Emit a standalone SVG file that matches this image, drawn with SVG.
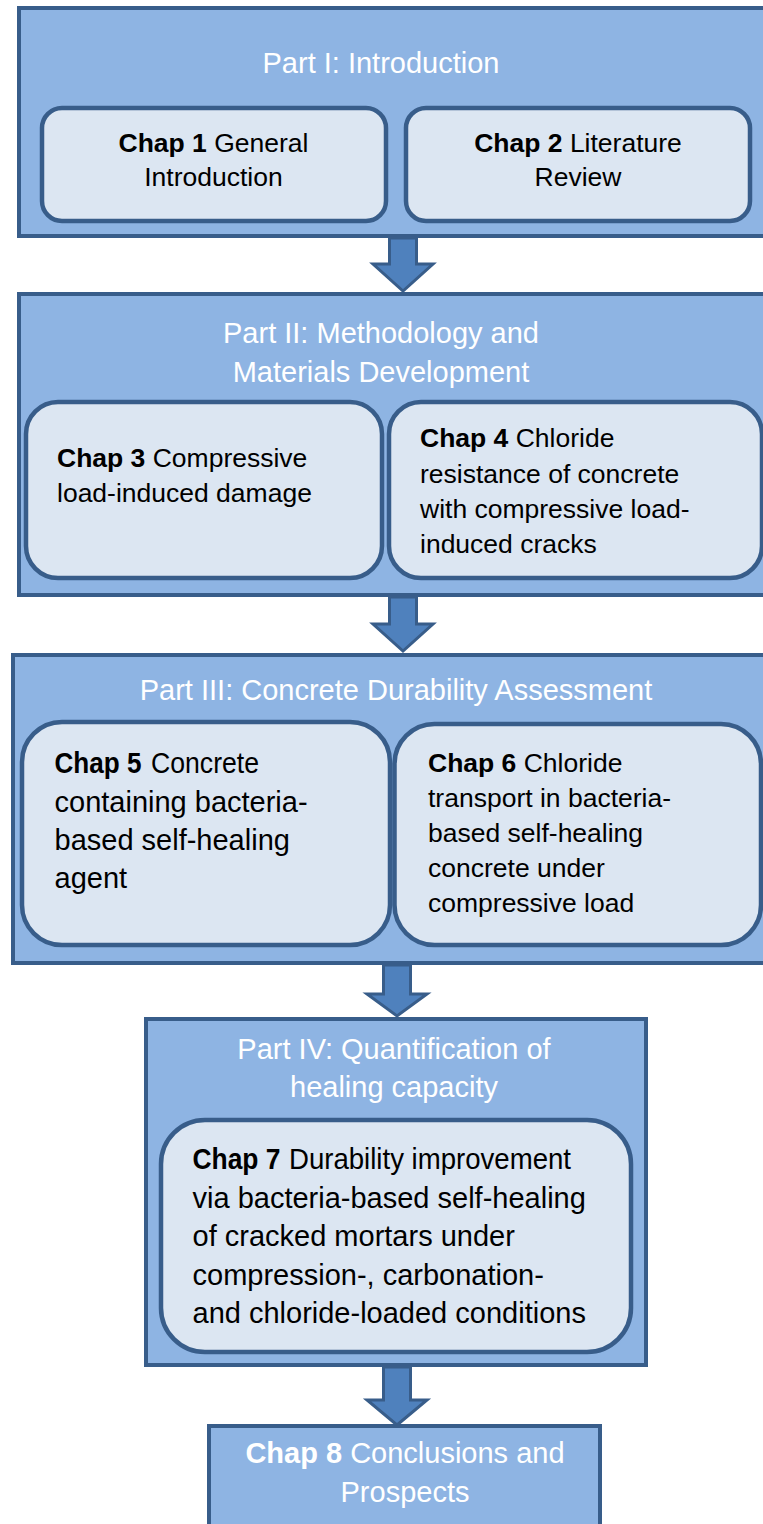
<svg xmlns="http://www.w3.org/2000/svg" width="763" height="1524" viewBox="0 0 763 1524">
<style>
.part{fill:#8eb4e3;stroke:#385d8a;stroke-width:4}
.chap{fill:#dce6f2;stroke:#385d8a;stroke-width:4.5}
.arrow{fill:#4f81bd;stroke:#385d8a;stroke-width:3;stroke-linejoin:miter}
text{font-family:"Liberation Sans",Arial,sans-serif}
.title{font-size:29px;fill:#ffffff;text-anchor:middle}
.ct{font-size:26.5px;fill:#000000}
.cb{font-size:29px;fill:#000000}
.mid{text-anchor:middle}
.b{font-weight:bold}
</style>
<rect width="763" height="1524" fill="#ffffff"/>
<g id="part1">
<rect class="part" x="19" y="8" width="760" height="228"/>
<text class="title" x="381" y="73">Part I: Introduction</text>
</g>
<g id="chap1">
<rect class="chap" x="42" y="108" width="344" height="113" rx="20"/>
<text class="ct mid" x="213.5" y="152"><tspan class="b">Chap 1</tspan> General</text>
<text class="ct mid" x="213.5" y="186">Introduction</text>
</g>
<g id="chap2">
<rect class="chap" x="406" y="108" width="344" height="113" rx="20"/>
<text class="ct mid" x="578" y="152"><tspan class="b">Chap 2</tspan> Literature</text>
<text class="ct mid" x="578" y="186">Review</text>
</g>
<g id="part2">
<rect class="part" x="19" y="294" width="760" height="301"/>
<text class="title" x="381" y="343">Part II: Methodology and</text>
<text class="title" x="381" y="382">Materials Development</text>
</g>
<g id="chap3">
<rect class="chap" x="26" y="402" width="356" height="176" rx="32"/>
<text class="ct" x="57" y="467"><tspan class="b">Chap 3</tspan> Compressive</text>
<text class="ct" x="57" y="502">load-induced damage</text>
</g>
<g id="chap4">
<rect class="chap" x="389" y="402" width="373" height="176" rx="32"/>
<text class="ct" x="420" y="447"><tspan class="b">Chap 4</tspan> Chloride</text>
<text class="ct" x="420" y="482.5">resistance of concrete</text>
<text class="ct" x="420" y="518">with compressive load-</text>
<text class="ct" x="420" y="553">induced cracks</text>
</g>
<g id="part3">
<rect class="part" x="13" y="655" width="766" height="308"/>
<text class="title" x="396" y="700">Part III: Concrete Durability Assessment</text>
</g>
<g id="chap5">
<rect class="chap" x="22" y="722" width="368" height="223" rx="40"/>
<text class="cb" y="773.3"><tspan class="b" x="54.5" textLength="87" lengthAdjust="spacingAndGlyphs">Chap 5</tspan><tspan x="151" textLength="108" lengthAdjust="spacingAndGlyphs">Concrete</tspan></text>
<text class="cb" x="54.5" y="811.7">containing bacteria-</text>
<text class="cb" x="54.5" y="850">based self-healing</text>
<text class="cb" x="54.5" y="888.4">agent</text>
</g>
<g id="chap6">
<rect class="chap" x="394.5" y="724" width="366.5" height="221" rx="40"/>
<text class="ct" x="428" y="771.7"><tspan class="b">Chap 6</tspan> Chloride</text>
<text class="ct" x="428" y="806.7">transport in bacteria-</text>
<text class="ct" x="428" y="841.7">based self-healing</text>
<text class="ct" x="428" y="876.7">concrete under</text>
<text class="ct" x="428" y="911.7">compressive load</text>
</g>
<g id="part4">
<rect class="part" x="146" y="1019" width="500" height="346"/>
<text class="title" x="394" y="1058.5">Part IV: Quantification of</text>
<text class="title" x="394" y="1097">healing capacity</text>
</g>
<g id="chap7">
<rect class="chap" x="161" y="1120" width="470" height="232" rx="44"/>
<text class="cb" y="1169"><tspan class="b" x="192.5" textLength="88" lengthAdjust="spacingAndGlyphs">Chap 7</tspan><tspan x="289" textLength="282" lengthAdjust="spacingAndGlyphs">Durability improvement</tspan></text>
<text class="cb" x="192.5" y="1207.5">via bacteria-based self-healing</text>
<text class="cb" x="192.5" y="1246">of cracked mortars under</text>
<text class="cb" x="192.5" y="1284.5">compression-, carbonation-</text>
<text class="cb" x="192.5" y="1323">and chloride-loaded conditions</text>
</g>
<g id="chap8">
<rect class="part" x="209" y="1426" width="391" height="110"/>
<text class="title" x="405" y="1463"><tspan class="b">Chap 8</tspan> Conclusions and</text>
<text class="title" x="405" y="1502">Prospects</text>
</g>
<g id="connectors">
<path class="arrow" d="M389.5,238 L416.5,238 L416.5,264 L433,264 L403,291 L373,264 L389.5,264 Z"/>
<path class="arrow" d="M389.5,597 L416.5,597 L416.5,624 L433,624 L403,651 L373,624 L389.5,624 Z"/>
<path class="arrow" d="M383.5,965 L410.5,965 L410.5,994 L427,994 L397,1016 L367,994 L383.5,994 Z"/>
<path class="arrow" d="M383.5,1367 L410.5,1367 L410.5,1400 L427,1400 L397,1425 L367,1400 L383.5,1400 Z"/>
</g>
</svg>
